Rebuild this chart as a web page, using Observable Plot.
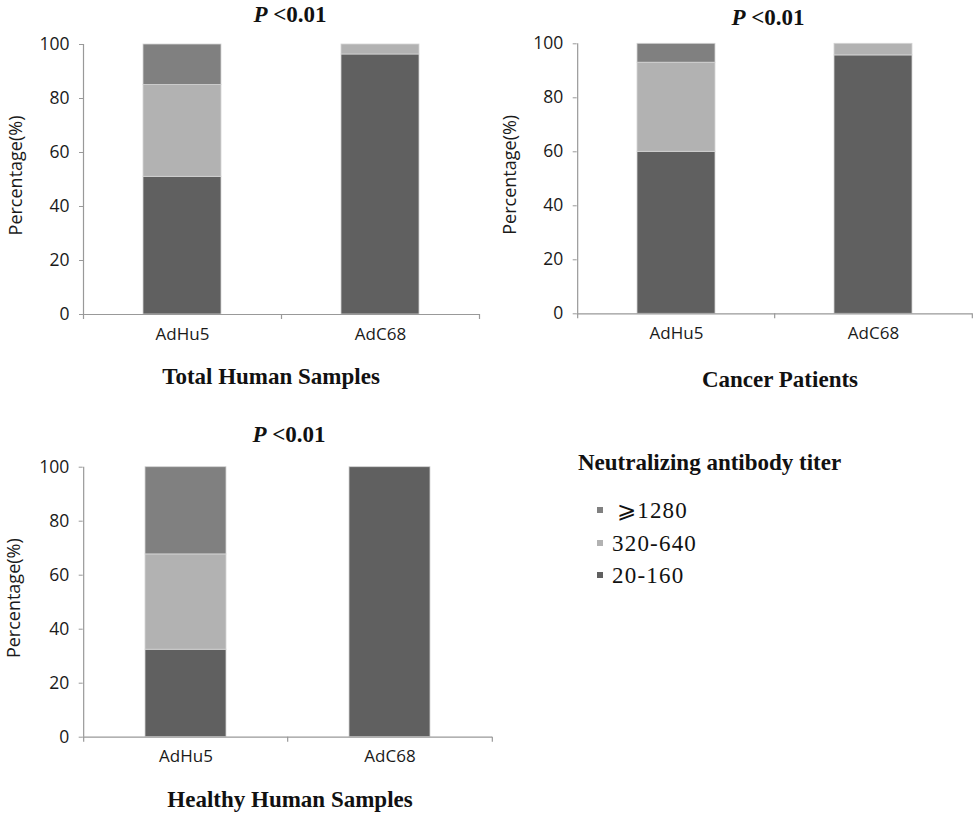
<!DOCTYPE html>
<html>
<head>
<meta charset="utf-8">
<script src="https://cdn.jsdelivr.net/npm/d3@7"></script>
<script src="https://cdn.jsdelivr.net/npm/@observablehq/plot@0.6"></script>
<style>
  html, body { margin: 0; padding: 0; background: #fff; }
  #wrap { position: relative; width: 978px; height: 814px; overflow: hidden; }
  .panel { position: absolute; }
  .ttl { position: absolute; font-family: "Liberation Serif", "DejaVu Serif", serif; font-weight: bold; font-size: 23px; color: #111; white-space: nowrap; transform: translate(-50%, -50%); line-height: 1; }
  .leg { position: absolute; font-family: "Liberation Serif", serif; white-space: nowrap; color: #111; }
  .sw { position: absolute; width: 6px; height: 6px; }
</style>
</head>
<body>
<div id="wrap"></div>
<script>
// ---- data ----
const vectors = ["AdHu5", "AdC68"];
const titers = ["≥1280", "320-640", "20-160"];          // legend order (top to bottom)
const stackOrder = ["20-160", "320-640", "≥1280"];     // bottom to top
const titerColors = ["#808080", "#b2b2b2", "#606060"]; // matches titers
const yTicks = [0, 20, 40, 60, 80, 100];

const totalLow  = [51, 96.3];
const totalMid  = [34, 3.7];
const totalHigh = [15, 0];

const cancerLow  = [60, 95.7];
const cancerMid  = [33, 4.3];
const cancerHigh = [7, 0];

const healthyLow  = [32.4, 100];
const healthyMid  = [35.3, 0];
const healthyHigh = [32.3, 0];

function rows(low, mid, high) {
  const out = [];
  vectors.forEach((v, i) => {
    out.push({vector: v, titer: "20-160", value: low[i]});
    out.push({vector: v, titer: "320-640", value: mid[i]});
    out.push({vector: v, titer: "≥1280", value: high[i]});
  });
  return out;
}

const wrap = document.getElementById("wrap");

function panel({data, left, top, width, height, mt, mb, ml, mr, labelDx}) {
  const step = (width - ml - mr) / vectors.length;
  const axisColor = "#999";
  const fh = height - mt - mb;
  const chart = Plot.plot({
    width, height,
    marginTop: mt, marginBottom: mb, marginLeft: ml, marginRight: mr,
    style: {fontFamily: "'Open Sans', sans-serif", background: "transparent", color: "#1a1a1a"},
    x: {type: "band", domain: vectors, paddingInner: 0.605, paddingOuter: 0.3025, axis: null},
    y: {domain: [0, 100], axis: null},
    color: {domain: titers, range: titerColors},
    marks: [
      Plot.barY(data, Plot.stackY({order: stackOrder}, {
        x: "vector", y: "value", fill: "titer",
        stroke: "#d4d4d4", strokeWidth: 0.8
      })),
      // axis lines
      Plot.ruleX([0], {x: () => vectors[0], dx: -step / 2, stroke: axisColor, strokeWidth: 1.2}),
      Plot.ruleY([0], {stroke: axisColor, strokeWidth: 1.2}),
      // x boundary ticks
      Plot.ruleX(vectors, {x: d => d, dx: -step / 2, insetTop: fh, insetBottom: -5, stroke: axisColor, strokeWidth: 1.2}),
      Plot.ruleX([vectors[vectors.length - 1]], {x: d => d, dx: step / 2, insetTop: fh, insetBottom: -5, stroke: axisColor, strokeWidth: 1.2}),
      Plot.axisY({ticks: yTicks, tickSize: 4, tickPadding: 10, fontSize: 17.5, stroke: axisColor, label: null}),
      Plot.axisX({tickSize: 0, tickPadding: 13, fontSize: 17, label: null}),
      Plot.text(["Percentage(%)"], {frameAnchor: "left", textAnchor: "middle", text: d => d, rotate: -90, dx: labelDx, dy: -4, fontSize: 18, fill: "#1a1a1a"})
    ]
  });
  const div = document.createElement("div");
  div.className = "panel";
  div.style.left = left + "px";
  div.style.top = top + "px";
  div.appendChild(chart);
  wrap.appendChild(div);
}

function title(html, x, y) {
  const d = document.createElement("div");
  d.className = "ttl";
  d.style.left = x + "px";
  d.style.top = y + "px";
  d.innerHTML = html;
  wrap.appendChild(d);
}

panel({data: rows(totalLow, totalMid, totalHigh), left: 0, top: 30, width: 490, height: 330, mt: 14, mb: 46, ml: 83, mr: 11, labelDx: -67});
panel({data: rows(cancerLow, cancerMid, cancerHigh), left: 490, top: 30, width: 488, height: 330, mt: 13.3, mb: 46.7, ml: 86.7, mr: 6, labelDx: -67});
panel({data: rows(healthyLow, healthyMid, healthyHigh), left: 0, top: 450, width: 498, height: 330, mt: 16.7, mb: 43.3, ml: 82.7, mr: 6, labelDx: -69});

title("<i>P</i> &lt;0.01", 290, 14);
title("<i>P</i> &lt;0.01", 768, 17);
title("<i>P</i> &lt;0.01", 289, 434);
title("Total Human Samples", 271, 376);
title("Cancer Patients", 780, 379);
title("Healthy Human Samples", 290, 799);

// legend
const lt = document.createElement("div");
lt.className = "leg";
lt.style.left = "578px"; lt.style.top = "450px";
lt.style.fontSize = "23px"; lt.style.fontWeight = "bold"; lt.style.lineHeight = "26px";
lt.textContent = "Neutralizing antibody titer";
wrap.appendChild(lt);
const legLabels = ["⩾1280", "320-640", "20-160"];
const legY = [511, 544, 576];
const legX = [617, 612, 612];
titers.forEach((t, i) => {
  const sw = document.createElement("div");
  sw.className = "sw";
  sw.style.left = "597px"; sw.style.top = (legY[i] - 4) + "px";
  sw.style.background = titerColors[i];
  wrap.appendChild(sw);
  const tx = document.createElement("div");
  tx.className = "leg";
  tx.style.left = legX[i] + "px"; tx.style.top = (legY[i] - 13) + "px";
  tx.style.fontSize = "23px"; tx.style.lineHeight = "26px"; tx.style.letterSpacing = "1.2px";
  tx.textContent = legLabels[i];
  wrap.appendChild(tx);
});
</script>
</body>
</html>
